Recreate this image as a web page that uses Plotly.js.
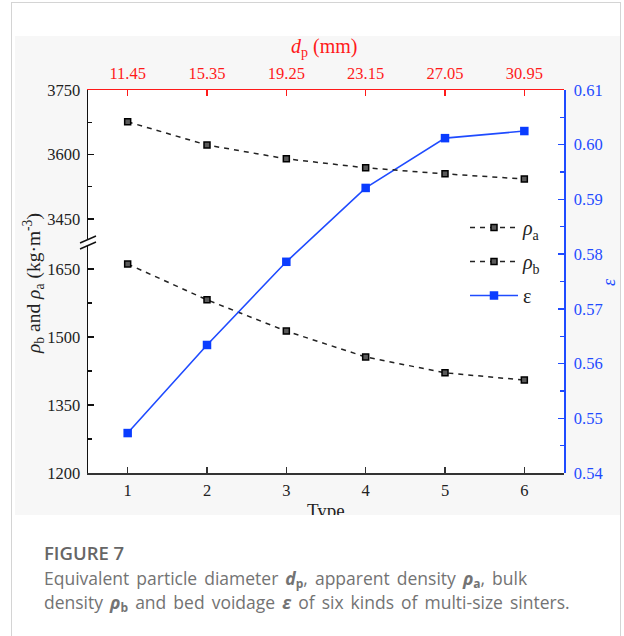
<!DOCTYPE html>
<html><head><meta charset="utf-8">
<script src="https://cdn.plot.ly/plotly-3.0.1.min.js"></script>
<style>
body{margin:0;background:#fff;width:624px;height:636px;overflow:hidden;position:relative;}
#frame{position:absolute;left:11px;top:2px;width:608px;height:700px;border:1px solid #d4d4d4;}
#wrap{position:absolute;left:15px;top:36px;width:605px;height:479px;overflow:hidden;background:#f7f7f7;}
#chart{width:605px;height:479px;}
#cap{position:absolute;left:44px;top:540px;font-family:'Open Sans',sans-serif;color:#737373;white-space:nowrap;}
#cap .t{font-size:18.5px;font-weight:600;color:#666;line-height:26px;}
#cap .d{font-size:17.5px;line-height:24px;word-spacing:2.5px;}
#cap sub{font-size:12px;vertical-align:baseline;position:relative;top:3px;line-height:0;}
</style></head>
<body>
<div id="frame"></div>
<div id="wrap"><div id="chart"></div></div>
<div id="cap"><div class="t">FIGURE 7</div><div class="d">Equivalent particle diameter <b><i>d</i><sub>p</sub></b>, apparent density <b><i>ρ</i><sub>a</sub></b>, bulk<br>density <b><i>ρ</i><sub>b</sub></b> and bed voidage <b><i>ε</i></b> of six kinds of multi-size sinters.</div></div>
<script>
const types = [1, 2, 3, 4, 5, 6];
const dpTicks = [11.45, 15.35, 19.25, 23.15, 27.05, 30.95];
const rhoA = [3676, 3622, 3590, 3569, 3555, 3543];
const rhoB = [1661, 1582, 1513, 1456, 1421, 1405];
const eps = [0.5473, 0.5634, 0.5786, 0.5921, 0.6012, 0.6025];

const SERIF = 'Liberation Serif, Times New Roman, serif';
const BLUE = '#1f4bff';
const RED = '#ff1a1a';
const INK = '#222';

// pixel helpers for decorations (plot area: x 88..564, y 90..473 in page)
const L = 88, R = 564, T = 90, B = 473;
const px = p => (p - L) / (R - L);
const py = p => (B - p) / (B - T);
const brk = py(242);

const rhoMarker = {symbol: 'square', size: 6, color: '#5a5a5a', line: {color: '#000', width: 1.5}};

const traces = [
  {x: types, y: rhoA, yaxis: 'y3', name: '<i>ρ</i><sub>a</sub>', mode: 'lines+markers',
   line: {color: INK, width: 1.5, dash: '5px,5px'}, marker: rhoMarker, legendgroup: 'a'},
  {x: types, y: rhoB, yaxis: 'y', name: '<i>ρ</i><sub>b</sub>', mode: 'lines+markers',
   line: {color: INK, width: 1.5, dash: '5px,5px'}, marker: rhoMarker, legendgroup: 'b'},
  {x: types, y: eps, yaxis: 'y2', name: 'ε', mode: 'lines+markers',
   line: {color: BLUE, width: 1.6}, marker: {symbol: 'square', size: 8.5, color: '#0a3cff'}, legendgroup: 'c'},
  {x: dpTicks, y: rhoA, xaxis: 'x2', yaxis: 'y3', mode: 'markers', marker: {opacity: 0},
   showlegend: false, hoverinfo: 'skip'}
];

const tickFont = {family: SERIF, size: 16.5, color: INK};

const layout = {
  width: 605, height: 479,
  margin: {l: L - 15, r: 620 - R, t: T - 36, b: 515 - B},
  paper_bgcolor: '#f7f7f7', plot_bgcolor: 'rgba(0,0,0,0)',
  showlegend: true,
  legend: {x: px(465), y: py(208), xanchor: 'left', yanchor: 'top', bgcolor: 'rgba(0,0,0,0)',
           font: {family: SERIF, size: 20, color: INK}, tracegroupgap: 5, itemwidth: 48},
  xaxis: {domain: [0, 1], range: [0.5, 6.5], anchor: 'y', tickmode: 'array', tickvals: types,
          showline: true, linecolor: '#333', linewidth: 1.5, ticks: 'inside', ticklen: 6, tickwidth: 1.3,
          tickcolor: '#333', showgrid: false, zeroline: false, tickfont: tickFont, ticklabelstandoff: 2},
  xaxis2: {overlaying: 'x', side: 'top', anchor: 'y3', range: [9.5, 32.9], tickmode: 'array',
           tickvals: dpTicks, ticktext: dpTicks.map(v => v.toFixed(2)),
           showline: true, linecolor: RED, linewidth: 1.5, ticks: 'inside', ticklen: 6, tickwidth: 1.3,
           tickcolor: RED, showgrid: false, zeroline: false, ticklabelstandoff: 3,
           tickfont: {family: SERIF, size: 16.5, color: RED}},
  yaxis: {domain: [0, brk], range: [1200, 1200 + (B - 242) / 0.4533], anchor: 'x', side: 'left',
          tick0: 1200, dtick: 150, showline: true, linecolor: '#111', linewidth: 1.5,
          ticks: 'inside', ticklen: 6, tickwidth: 1.3, tickcolor: '#111', ticklabelstandoff: 3,
          minor: {dtick: 75, ticks: 'inside', ticklen: 4, tickwidth: 1.2, tickcolor: '#111', showgrid: false},
          showgrid: false, zeroline: false, tickfont: tickFont},
  yaxis3: {domain: [brk, 1], range: [3750 - (242 - T) / 0.43, 3750], anchor: 'x', side: 'left',
           tick0: 0, dtick: 150, showline: true, linecolor: '#111', linewidth: 1.5,
           ticks: 'inside', ticklen: 6, tickwidth: 1.3, tickcolor: '#111', ticklabelstandoff: 3,
           minor: {dtick: 75, ticks: 'inside', ticklen: 4, tickwidth: 1.2, tickcolor: '#111', showgrid: false},
           showgrid: false, zeroline: false, tickfont: tickFont},
  yaxis2: {domain: [0, 1], range: [0.54, 0.61], anchor: 'x', side: 'right', dtick: 0.01, tickformat: '.2f',
           showline: true, linecolor: BLUE, linewidth: 1.5, ticks: 'inside', ticklen: 6, tickwidth: 1.3,
           tickcolor: BLUE, ticklabelstandoff: 5,
           minor: {dtick: 0.005, ticks: 'inside', ticklen: 4, tickwidth: 1.2, tickcolor: BLUE, showgrid: false},
           showgrid: false, zeroline: false, tickfont: {family: SERIF, size: 16.5, color: BLUE}},
  shapes: [
    {type: 'rect', xref: 'paper', yref: 'paper', x0: 0, x1: 1, y0: 0, y1: 1, fillcolor: '#fff',
     line: {width: 0}, layer: 'below'},
    {type: 'rect', xref: 'paper', yref: 'paper', x0: px(84), x1: px(92), y0: py(246), y1: py(239),
     fillcolor: '#fff', line: {width: 0}, layer: 'above'},
    {type: 'line', xref: 'paper', yref: 'paper', x0: px(80), y0: py(243), x1: px(96), y1: py(236),
     line: {color: '#111', width: 1.4}, layer: 'above'},
    {type: 'line', xref: 'paper', yref: 'paper', x0: px(80), y0: py(249), x1: px(96), y1: py(242),
     line: {color: '#111', width: 1.4}, layer: 'above'}
  ],
  annotations: [
    {xref: 'paper', yref: 'paper', x: px(324), y: py(47), xanchor: 'center', yanchor: 'middle', showarrow: false,
     text: '<i>d</i><sub>p</sub> (mm)', font: {family: SERIF, size: 20, color: RED}},
    {xref: 'paper', yref: 'paper', x: px(33), y: py(284), xanchor: 'center', yanchor: 'middle', showarrow: false,
     textangle: -90, text: '<i>ρ</i><sub>b</sub> and <i>ρ</i><sub>a</sub> (kg·m<sup>-3</sup>)',
     font: {family: SERIF, size: 19.5, color: INK}},
    {xref: 'paper', yref: 'paper', x: px(609), y: py(282), xanchor: 'center', yanchor: 'middle', showarrow: false,
     textangle: -90, text: '<i>ε</i>', font: {family: SERIF, size: 18, color: BLUE}},
    {xref: 'paper', yref: 'paper', x: px(326), y: py(498), xanchor: 'center', yanchor: 'top', showarrow: false,
     text: 'Type', font: {family: SERIF, size: 19, color: INK}}
  ]
};

Plotly.newPlot('chart', traces, layout, {displayModeBar: false, staticPlot: true});
</script>
</body></html>
